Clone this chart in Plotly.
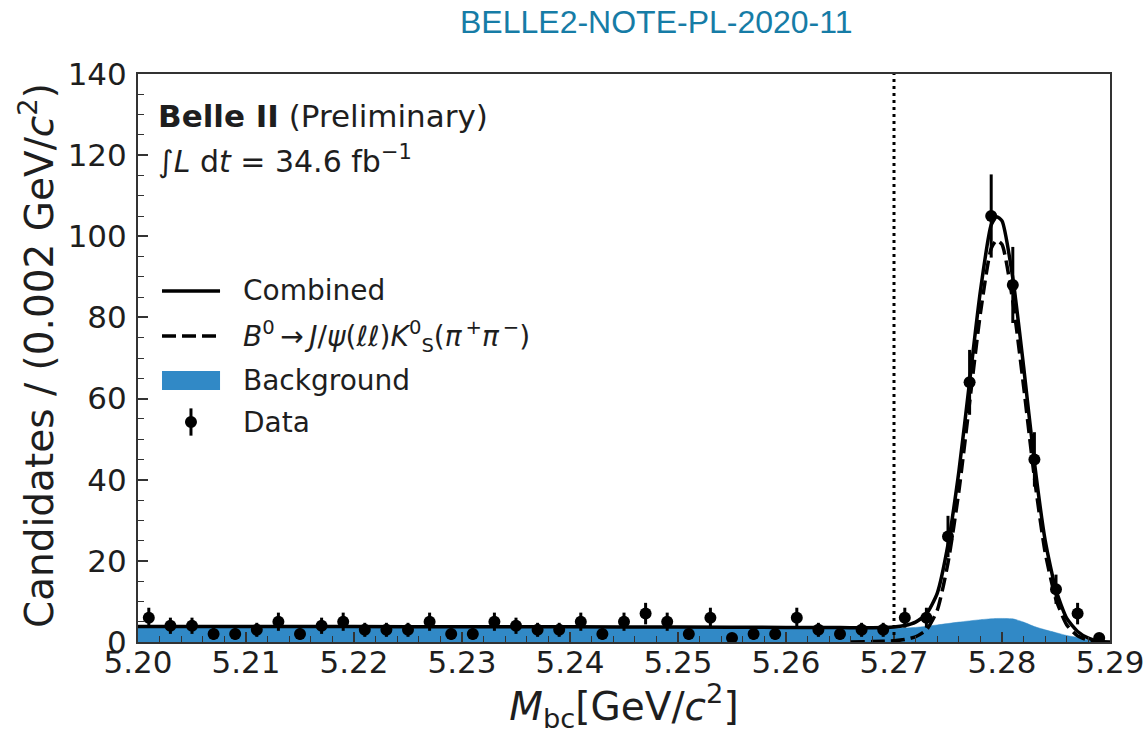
import plotly.graph_objects as go

# ---------------- data ----------------
bin_centers = [5.201, 5.203, 5.205, 5.207, 5.209, 5.211, 5.213, 5.215, 5.217, 5.219,
               5.221, 5.223, 5.225, 5.227, 5.229, 5.231, 5.233, 5.235, 5.237, 5.239,
               5.241, 5.243, 5.245, 5.247, 5.249, 5.251, 5.253, 5.255, 5.257, 5.259,
               5.261, 5.263, 5.265, 5.267, 5.269, 5.271, 5.273, 5.275, 5.277, 5.279,
               5.281, 5.283, 5.285, 5.287, 5.289]
counts = [6, 4, 4, 2, 2, 3, 5, 2, 4, 5,
          3, 3, 3, 5, 2, 2, 5, 4, 3, 3,
          5, 2, 5, 7, 5, 2, 6, 1, 2, 2,
          6, 3, 2, 3, 3, 6, 6, 26, 64, 105,
          88, 45, 13, 7, 1]
count_errors = [2.45, 2.0, 2.0, 1.41, 1.41, 1.73, 2.24, 1.41, 2.0, 2.24,
                1.73, 1.73, 1.73, 2.24, 1.41, 1.41, 2.24, 2.0, 1.73, 1.73,
                2.24, 1.41, 2.24, 2.65, 2.24, 1.41, 2.45, 1.0, 1.41, 1.41,
                2.45, 1.73, 1.41, 1.73, 1.73, 2.45, 2.45, 5.10, 8.0, 10.25,
                9.38, 6.71, 3.61, 2.65, 1.0]

bkg_x = [5.200, 5.210, 5.220, 5.230, 5.240, 5.250, 5.260, 5.265, 5.268, 5.270,
         5.272, 5.274, 5.276, 5.278, 5.2795, 5.281, 5.282, 5.283, 5.284, 5.285,
         5.286, 5.287, 5.288, 5.289, 5.2895, 5.290]
bkg_y = [3.85, 3.83, 3.80, 3.77, 3.73, 3.68, 3.58, 3.50, 3.42, 3.40,
         3.60, 4.20, 4.90, 5.50, 5.80, 5.70, 4.90, 3.80, 3.00, 2.30,
         1.60, 1.10, 0.50, 0.10, 0.0, 0.0]

sig_x = [5.266, 5.268, 5.270, 5.271, 5.272, 5.273, 5.274, 5.275, 5.276, 5.277,
         5.278, 5.279, 5.2795, 5.280, 5.281, 5.282, 5.283, 5.284, 5.285, 5.286,
         5.287, 5.288, 5.289, 5.290]
sig_y = [0.0, 0.1, 0.3, 0.6, 1.3, 3.0, 7.8, 19.5, 37.0, 59.0,
         81.0, 97.0, 99.0, 98.0, 84.0, 63.0, 40.5, 22.0, 10.5, 4.2,
         1.5, 0.45, 0.1, 0.0]

comb_x = [5.200, 5.210, 5.220, 5.230, 5.240, 5.250, 5.260, 5.265, 5.268, 5.270,
          5.271, 5.272, 5.273, 5.274, 5.275, 5.276, 5.277, 5.278, 5.279, 5.2795,
          5.280, 5.281, 5.282, 5.283, 5.284, 5.285, 5.286, 5.287, 5.288, 5.289,
          5.290]
comb_y = [3.85, 3.83, 3.80, 3.77, 3.73, 3.68, 3.60, 3.56, 3.52, 3.70,
          4.05, 4.90, 6.90, 12.0, 24.0, 41.9, 64.2, 86.5, 102.8, 104.8,
          103.8, 89.7, 67.9, 44.3, 25.0, 12.8, 5.8, 2.6, 0.95, 0.2,
          0.0]

signal_region_edge = 5.27

x_tick_vals = [5.20, 5.21, 5.22, 5.23, 5.24, 5.25, 5.26, 5.27, 5.28, 5.29]
x_tick_text = ["5.20", "5.21", "5.22", "5.23", "5.24", "5.25", "5.26", "5.27", "5.28", "5.29"]
y_tick_vals = [0, 20, 40, 60, 80, 100, 120, 140]

legend_labels = [
    "Combined",
    "<i>B</i><sup>0</sup>\u2009\u2192\u2009<i>J</i>/<i>\u03c8</i>(<i>\u2113\u2113</i>)<i>K</i><sup>0</sup><sub>S</sub>(<i>\u03c0</i><sup>\u2009+</sup><i>\u03c0</i><sup>\u2009\u2212</sup>)",
    "Background",
    "Data",
]

# ---------------- style ----------------
FONT = "DejaVu Sans"
BLUE = "#3189c6"
TXT = "#1e1e1e"

fig = go.Figure()

fig.add_trace(go.Scatter(
    x=bkg_x, y=bkg_y, mode="lines", fill="tozeroy",
    line=dict(color=BLUE, width=0.5, shape="spline", smoothing=0.6),
    fillcolor=BLUE, name="Background", showlegend=False))

fig.add_trace(go.Scatter(
    x=sig_x, y=sig_y, mode="lines",
    line=dict(color="black", width=3.5, dash="14px,6px", shape="spline", smoothing=0.6),
    name="Signal", showlegend=False))

fig.add_trace(go.Scatter(
    x=comb_x, y=comb_y, mode="lines",
    line=dict(color="black", width=3.5, shape="spline", smoothing=0.6),
    name="Combined", showlegend=False))

fig.add_trace(go.Scatter(
    x=bin_centers, y=counts, mode="markers",
    marker=dict(color="black", size=12),
    error_y=dict(type="data", array=count_errors, color="black", thickness=3, width=0),
    name="Data", showlegend=False))

fig.add_vline(x=signal_region_edge, line=dict(color="black", width=3, dash="3px,4px"))

# ---- legend (drawn in paper coordinates) ----
LX0, LX1, LXC, LTX = 0.0247, 0.0844, 0.0545, 0.1055
legend_rows_y = [0.618, 0.5387, 0.4604, 0.3873]

fig.add_shape(type="line", xref="paper", yref="paper", x0=LX0, x1=LX1,
              y0=legend_rows_y[0], y1=legend_rows_y[0], line=dict(color="black", width=3.5))
fig.add_shape(type="line", xref="paper", yref="paper", x0=LX0, x1=LX1,
              y0=legend_rows_y[1], y1=legend_rows_y[1],
              line=dict(color="black", width=3.5, dash="14px,6px"))
fig.add_shape(type="rect", xref="paper", yref="paper", x0=LX0, x1=LX1,
              y0=legend_rows_y[2] - 0.0167, y1=legend_rows_y[2] + 0.0167,
              line=dict(width=0), fillcolor=BLUE)
fig.add_shape(type="line", xref="paper", yref="paper", x0=LXC, x1=LXC,
              y0=legend_rows_y[3] - 0.024, y1=legend_rows_y[3] + 0.024,
              line=dict(color="black", width=3))
fig.add_shape(type="circle", xref="paper", yref="paper", xsizemode="pixel", ysizemode="pixel",
              xanchor=LXC, yanchor=legend_rows_y[3], x0=-6, x1=6, y0=-6, y1=6,
              fillcolor="black", line=dict(color="black", width=0))

annotations = [
    dict(text="BELLE2-NOTE-PL-2020-11", xref="paper", yref="paper",
         x=0.533, y=1.0915, xanchor="center", yanchor="middle", showarrow=False,
         font=dict(family="Liberation Sans", size=32, color="#167ca6")),
    dict(text="<b>Belle II</b> (Preliminary)", xref="paper", yref="paper",
         x=0.019, y=0.926, xanchor="left", yanchor="middle", showarrow=False,
         font=dict(family=FONT, size=31, color=TXT)),
    dict(text="\u222b<i>L</i> d<i>t</i> = 34.6 fb<sup>\u22121</sup>", xref="paper", yref="paper",
         x=0.019, y=0.849, xanchor="left", yanchor="middle", showarrow=False,
         font=dict(family=FONT, size=30, color=TXT)),
    # y-axis title
    dict(text="Candidates / (0.002 GeV/<i>c</i><sup>2</sup>)", xref="paper", yref="paper",
         x=-0.104, y=0.505, xanchor="center", yanchor="middle", textangle=-90, showarrow=False,
         font=dict(family=FONT, size=39, color=TXT)),
]
for lab, yy in zip(legend_labels, legend_rows_y):
    annotations.append(dict(text=lab, xref="paper", yref="paper", x=LTX, y=yy,
                            xanchor="left", yanchor="middle", showarrow=False,
                            font=dict(family=FONT, size=28, color=TXT)))

axis_common = dict(
    showline=True, linecolor="#333333", linewidth=2, mirror=True,
    ticks="inside", tickcolor="#333333", tickwidth=1.5, ticklen=10,
    showgrid=False, zeroline=False, automargin=False,
    tickfont=dict(family=FONT, size=31, color=TXT),
)

fig.update_layout(
    width=1146, height=734,
    margin=dict(l=138, r=36, t=74, b=92, autoexpand=False),
    paper_bgcolor="white", plot_bgcolor="white",
    font=dict(family=FONT, color=TXT),
    showlegend=False,
    xaxis=dict(
        range=[5.20, 5.29], tickvals=x_tick_vals, ticktext=x_tick_text,
        minor=dict(dtick=0.002, tick0=5.20, ticks="inside", ticklen=6, tickwidth=1.2, tickcolor="#333333"),
        ticklabelstandoff=-8,
        title=dict(text="<i>M</i><sub>bc</sub>[GeV/<i>c</i><sup>2</sup>]",
                   font=dict(family=FONT, size=39, color=TXT), standoff=18),
        **axis_common,
    ),
    yaxis=dict(
        range=[0, 140], tickvals=y_tick_vals,
        minor=dict(dtick=5, tick0=0, ticks="inside", ticklen=6, tickwidth=1.2, tickcolor="#333333"),
        ticklabelstandoff=3,
        **axis_common,
    ),
    annotations=annotations,
)

fig.write_html("out.html", config={"displayModeBar": False},
               post_script="document.body.style.margin='0px';document.body.style.padding='0px';")
